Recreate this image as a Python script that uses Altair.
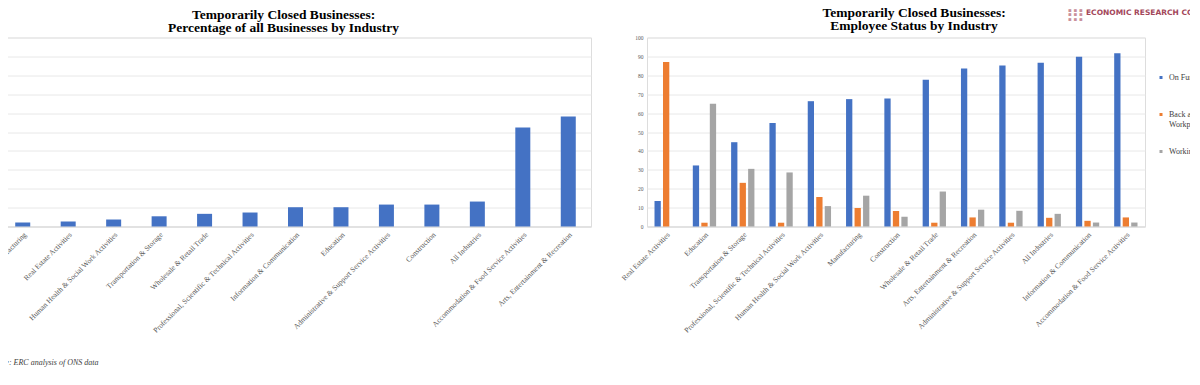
import altair as alt
import pandas as pd

SERIF = "Liberation Serif"

left_industries = [
    "Manufacturing", "Real Estate Activities", "Human Health & Social Work Activities",
    "Transportation & Storage", "Wholesale & Retail Trade",
    "Professional, Scientific & Technical Activities", "Information & Communication",
    "Education", "Administrative & Support Service Activities", "Construction",
    "All Industries", "Accommodation & Food Service Activities",
    "Arts, Entertainment & Recreation",
]
left_values = [2.1, 2.6, 3.7, 5.4, 6.7, 7.4, 10.2, 10.2, 11.6, 11.6, 13.2, 52.4, 58.2]

right_industries = [
    "Real Estate Activities", "Education", "Transportation & Storage",
    "Professional, Scientific & Technical Activities", "Human Health & Social Work Activities",
    "Manufacturing", "Construction", "Wholesale & Retail Trade",
    "Arts, Entertainment & Recreation", "Administrative & Support Service Activities",
    "All Industries", "Information & Communication", "Accommodation & Food Service Activities",
]
statuses = ["On Furlough", "Back at Normal Workplace", "Working Remotely"]
status_colors = ["#4472C4", "#ED7D31", "#A5A5A5"]
on_furlough = [13.5, 32.3, 44.6, 54.7, 66.3, 67.4, 67.7, 77.6, 83.6, 85.2, 86.6, 89.8, 91.7]
back_at_workplace = [87.0, 2.0, 23.1, 2.0, 15.6, 9.8, 8.2, 2.0, 4.8, 2.0, 4.6, 3.0, 4.8]
working_remotely = [0.0, 65.0, 30.5, 28.6, 10.8, 16.3, 5.2, 18.5, 8.9, 8.3, 6.7, 2.1, 2.1]

left_title = ["Temporarily Closed Businesses:", "Percentage of all Businesses by Industry"]
right_title = ["Temporarily Closed Businesses:", "Employee Status by Industry"]
source_note = ["Source: ERC analysis of ONS data"]
logo_text = ["ECONOMIC RESEARCH COUNCIL"]
logo_dots = [["\u25aa \u25aa \u25aa", "\u25aa \u25aa \u25aa", "\u25aa \u25aa \u25aa"]]

# ---------- left chart ----------
left_df = pd.DataFrame({"industry": left_industries, "share": left_values})

left_bars = alt.Chart(left_df).mark_bar(color="#4472C4").encode(
    x=alt.X(
        "industry:N", sort=left_industries, title=None,
        scale=alt.Scale(paddingInner=0.67, paddingOuter=0.335),
        axis=alt.Axis(labelAngle=-45, labelFont=SERIF, labelFontSize=7.5,
                      labelColor="#595959", ticks=False, labelPadding=4,
                      domainColor="#d9d9d9", labelLimit=400),
    ),
    y=alt.Y(
        "share:Q", title=None, scale=alt.Scale(domain=[0, 100]),
        axis=alt.Axis(values=list(range(0, 101, 10)), labels=False, ticks=False,
                      domain=False, gridColor="#e8e8e8"),
    ),
)

source = alt.Chart(pd.DataFrame({"note": source_note})).mark_text(
    align="left", baseline="middle", font=SERIF, fontStyle="italic",
    fontSize=8, color="#404040",
).encode(text="note:N", x=alt.value(-13), y=alt.value(325))

left = alt.layer(left_bars, source).properties(
    width=591, height=189,
    title=alt.TitleParams(left_title, font=SERIF, fontSize=13.5, fontWeight="bold",
                          color="#000000", lineHeight=13, anchor="middle", dx=-12,
                          offset=3, frame="group"),
)

# ---------- right chart ----------
rows = []
for i, ind in enumerate(right_industries):
    rows.append({"industry": ind, "status": statuses[0], "value": on_furlough[i]})
    rows.append({"industry": ind, "status": statuses[1], "value": back_at_workplace[i]})
    rows.append({"industry": ind, "status": statuses[2], "value": working_remotely[i]})
right_df = pd.DataFrame(rows)

right_bars = alt.Chart(right_df).mark_bar().encode(
    x=alt.X(
        "industry:N", sort=right_industries, title=None,
        scale=alt.Scale(paddingInner=0.334, paddingOuter=0.167),
        axis=alt.Axis(labelAngle=-45, labelFont=SERIF, labelFontSize=7.5,
                      labelColor="#595959", ticks=False, labelPadding=4,
                      domainColor="#d9d9d9", labelLimit=400),
    ),
    xOffset=alt.XOffset("status:N", sort=statuses,
                        scale=alt.Scale(paddingInner=0.26, paddingOuter=0.13)),
    y=alt.Y(
        "value:Q", title=None, scale=alt.Scale(domain=[0, 100]),
        axis=alt.Axis(values=list(range(0, 101, 10)), ticks=False, domain=False,
                      gridColor="#e8e8e8", labelFont=SERIF, labelFontSize=5.5,
                      labelColor="#595959", labelPadding=4),
    ),
    color=alt.Color(
        "status:N", sort=statuses,
        scale=alt.Scale(domain=statuses, range=status_colors),
        legend=alt.Legend(
            title=None, orient="none", legendX=1157, legendY=36,
            symbolType="square", symbolSize=9, symbolStrokeWidth=0,
            labelFont=SERIF, labelFontSize=8, labelColor="#404040",
            rowPadding=19, labelLimit=300,
            labelExpr="datum.label == 'Back at Normal Workplace' ? ['Back at Normal', 'Workplace'] : [datum.label, '']",
        ),
    ),
)

logo_dot_mark = alt.Chart(pd.DataFrame({"d": logo_dots})).mark_text(
    align="left", baseline="top", font="DejaVu Sans", fontSize=5.5,
    lineHeight=4.5, color="#c9909b",
).encode(text="d", x=alt.value(421), y=alt.value(-30))

logo_text_mark = alt.Chart(pd.DataFrame({"t": logo_text})).mark_text(
    align="left", baseline="middle", font="DejaVu Sans", fontSize=7.5,
    fontWeight="bold", color="#a3475a",
).encode(text="t:N", x=alt.value(439), y=alt.value(-24.5))

right = alt.layer(right_bars, logo_dot_mark, logo_text_mark).properties(
    width=498, height=189,
    title=alt.TitleParams(right_title, font=SERIF, fontSize=13.5, fontWeight="bold",
                          color="#000000", lineHeight=13, anchor="middle", dx=18,
                          dy=33, offset=8, frame="group"),
)

chart = alt.hconcat(left, right, spacing=56, bounds="flush").properties(
    padding={"left": -22, "top": -2.5, "right": -40, "bottom": 5},
).configure_view(stroke=None).configure(background="#ffffff")

chart.save("out.html", embed_options={"renderer": "svg", "actions": False})
